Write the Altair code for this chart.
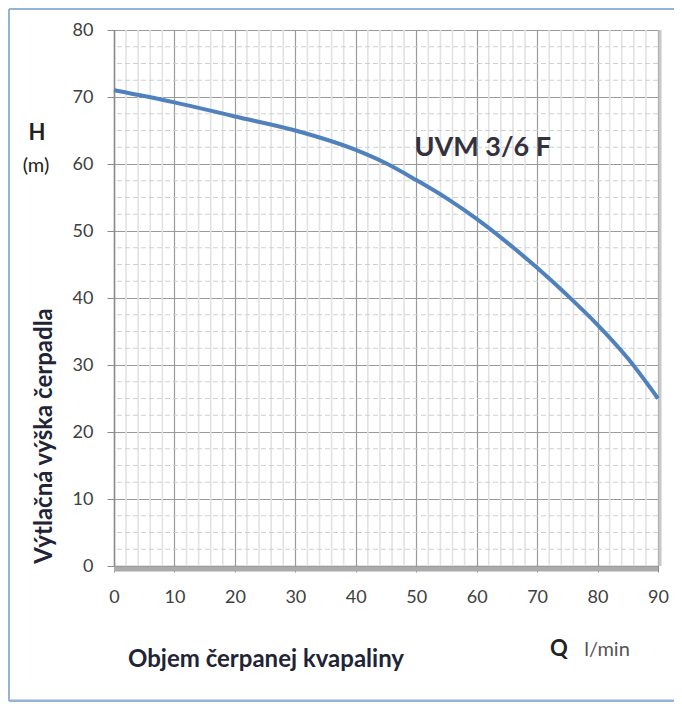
import altair as alt
import pandas as pd

# Pump curve UVM 3/6 F
q_values = [0, 10, 20, 30, 40, 45, 50, 55, 60, 65, 70, 75, 80, 85, 90]
h_values = [71, 69.2, 67.1, 65, 62.1, 60.1, 57.6, 54.9, 51.8, 48.3, 44.5, 40.4, 36, 31, 25]

x_ticks = [0, 10, 20, 30, 40, 50, 60, 70, 80, 90]
y_ticks = [0, 10, 20, 30, 40, 50, 60, 70, 80]
x_minor = [v for v in range(2, 90, 2) if v % 10 != 0]
y_minor = [v / 2 for v in range(5, 160, 5) if (v / 2) % 10 != 0]

curve_label = "UVM 3/6 F"
label_q, label_h = 61, 62.4

FONT = "Lato"
BLUE = "#4f81bd"

xs = alt.Scale(domain=[0, 90], nice=False, zero=False)
ys = alt.Scale(domain=[0, 80], nice=False, zero=False)

x_axis = alt.Axis(
    values=x_ticks, title=None, grid=True, gridColor="#9a9a9a", gridWidth=1.2,
    domainColor="#8a8a8a", domainWidth=1.5, tickColor="#8a8a8a", tickSize=6,
    labelFont=FONT, labelFontSize=18, labelColor="#404040", labelPadding=16,
    labelFlush=False, labelOverlap=False,
)
y_axis = alt.Axis(
    values=y_ticks, title=None, grid=True, gridColor="#9a9a9a", gridWidth=1.2,
    domainColor="#8a8a8a", domainWidth=1.5, tickColor="#8a8a8a", tickSize=7,
    labelFont=FONT, labelFontSize=18, labelColor="#404040", labelPadding=14,
    labelFlush=False, labelOverlap=False,
)

curve_df = pd.DataFrame({"Q": q_values, "H": h_values})

vminor = alt.Chart(pd.DataFrame({"Q": x_minor})).mark_rule(
    color="#e2e2e2", strokeWidth=1.6
).encode(x=alt.X("Q:Q", scale=xs, axis=x_axis))

hminor = alt.Chart(pd.DataFrame({"H": y_minor})).mark_rule(
    color="#cfcfcf", strokeWidth=1.2, strokeDash=[5, 3]
).encode(y=alt.Y("H:Q", scale=ys, axis=y_axis))

shadow_bottom = alt.Chart(pd.DataFrame({"a": [0]})).mark_rule(
    color="#ababab", strokeWidth=5, yOffset=3
).encode(x=alt.datum(0, scale=xs, axis=x_axis), x2=alt.datum(90),
         y=alt.datum(0, scale=ys, axis=y_axis))

shadow_right = alt.Chart(pd.DataFrame({"a": [0]})).mark_rule(
    color="#c8c8c8", strokeWidth=3, xOffset=2
).encode(x=alt.datum(90, scale=xs, axis=x_axis),
         y=alt.datum(0, scale=ys, axis=y_axis), y2=alt.datum(80))

line = alt.Chart(curve_df).mark_line(
    color=BLUE, strokeWidth=4, interpolate="monotone"
).encode(
    x=alt.X("Q:Q", scale=xs, axis=x_axis),
    y=alt.Y("H:Q", scale=ys, axis=y_axis),
)

label = alt.Chart(pd.DataFrame({"Q": [label_q], "H": [label_h], "t": [curve_label]})).mark_text(
    font=FONT, fontSize=27, fontWeight="bold", color="#33313b", align="center", baseline="middle"
).encode(x=alt.X("Q:Q", scale=xs, axis=x_axis), y=alt.Y("H:Q", scale=ys, axis=y_axis), text="t:N")


def note(text, x, y, size, weight="normal", color="#222222", angle=0, align="center"):
    return alt.Chart(pd.DataFrame({"t": [text]})).mark_text(
        font=FONT, fontSize=size, fontWeight=weight, color=color, angle=angle,
        align=align, baseline="middle"
    ).encode(x=alt.value(x), y=alt.value(y), text="t:N")


texts = [
    note("H", -77, 103, 22, "bold"),
    note("(m)", -78, 136, 20, "normal", "#222222"),
    note("Výtlačná výška čerpadla", -69, 406, 24, "bold", "#1f2436", angle=270),
    note("Objem čerpanej kvapaliny", 152, 630, 24, "bold", "#1f2436"),
    note("Q", 445, 619, 22, "bold", "#222222"),
    note("l/min", 493, 620, 20, "normal", "#555555"),
]

frame_color = "#95b3d7"
frame = [
    alt.Chart(pd.DataFrame({"a": [0]})).mark_rule(color=frame_color, strokeWidth=2).encode(
        x=alt.value(-105), x2=alt.value(570), y=alt.value(-21)),
    alt.Chart(pd.DataFrame({"a": [0]})).mark_rule(color=frame_color, strokeWidth=2).encode(
        x=alt.value(-105), y=alt.value(-21), y2=alt.value(671)),
    alt.Chart(pd.DataFrame({"a": [0]})).mark_rule(color=frame_color, strokeWidth=3).encode(
        x=alt.value(-105), x2=alt.value(570), y=alt.value(671)),
]

chart = alt.layer(
    vminor, hminor, shadow_bottom, shadow_right, line, label, *texts, *frame
).properties(
    width=544, height=536,
    autosize=alt.AutoSizeParams(type="none"),
    padding={"left": 106, "top": 22, "right": 16, "bottom": 136},
    background="white",
).configure_view(stroke="#b0b0b0", strokeWidth=1)

chart.save("out.html", embed_options={"renderer": "svg", "actions": False})
